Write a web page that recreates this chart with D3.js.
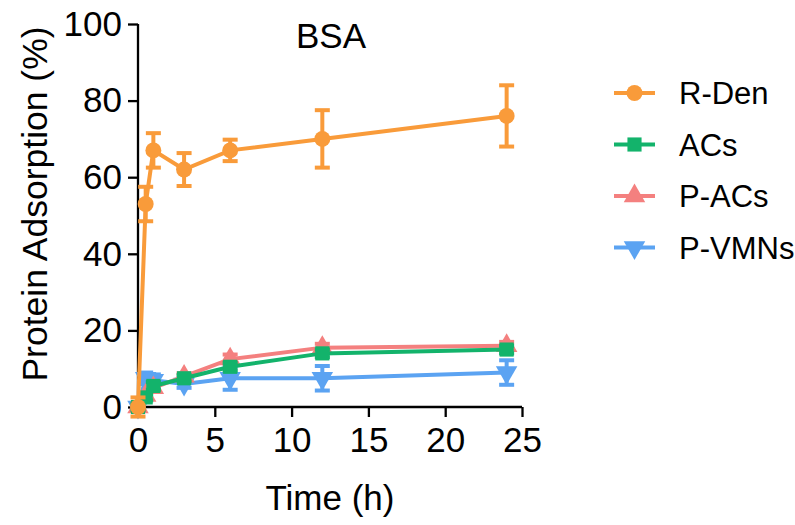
<!DOCTYPE html>
<html>
<head>
<meta charset="utf-8">
<script src="https://cdn.jsdelivr.net/npm/d3@7"></script>
<style>
  body { margin: 0; background: #fff; }
  svg text { font-family: "Liberation Sans", Arial, sans-serif; fill: #000; }
</style>
</head>
<body>
<main></main>
<script>
const width = 795;
const height = 525;

const times = [0, 0.5, 1, 3, 6, 12, 24];
const seriesNames = ['R-Den', 'ACs', 'P-ACs', 'P-VMNs'];
const rDen = [0, 53, 67, 62, 67, 70, 76];
const rDenErr = [2.5, 4.5, 4.5, 4.3, 2.8, 7.5, 8];
const acs = [0, 2.5, 5.5, 7.5, 10.5, 14, 15];
const acsErr = [0.8, 0.8, 1, 0.8, 1, 1, 1];
const pAcs = [0, 3, 5, 8, 12.5, 15.5, 16];
const pAcsErr = [0.8, 0.8, 1, 0.8, 1.2, 1, 1];
const pVmns = [0, 7.5, 7, 6, 7.5, 7.5, 9];
const pVmnsErr = [0.8, 1.5, 1.5, 1, 3, 3.2, 3.2];
const xTicks = [0, 5, 10, 15, 20, 25];
const yTicks = [0, 20, 40, 60, 80, 100];

const colors = ['#F99B3A', '#13B36B', '#F4807F', '#5BA3F2'];
const shapes = [d3.symbolCircle, d3.symbolSquare, d3.symbolTriangle, d3.symbolTriangle];

const series = [
  { name: seriesNames[0], values: rDen, errs: rDenErr },
  { name: seriesNames[1], values: acs, errs: acsErr },
  { name: seriesNames[2], values: pAcs, errs: pAcsErr },
  { name: seriesNames[3], values: pVmns, errs: pVmnsErr }
].map((s, i) => ({ ...s, color: colors[i], shape: shapes[i], flip: i === 3 }));

const x = d3.scaleLinear().domain([0, 25]).range([138, 522]);
const y = d3.scaleLinear().domain([0, 100]).range([407, 24]);

const svg = d3.select('main')
  .append('svg')
  .attr('width', width)
  .attr('height', height);

// axes
const xAxis = svg.append('g')
  .attr('transform', `translate(0, ${y(0)})`)
  .call(d3.axisBottom(x).tickValues(xTicks).tickSize(10).tickPadding(10).tickFormat(d3.format('d')));

const yAxis = svg.append('g')
  .attr('transform', `translate(${x(0)}, 0)`)
  .call(d3.axisLeft(y).tickValues(yTicks).tickSize(10).tickPadding(6).tickFormat(d3.format('d')));

[xAxis, yAxis].forEach(a => {
  a.select('.domain').attr('stroke', '#000').attr('stroke-width', 2.3);
  a.selectAll('.tick line').attr('stroke', '#000').attr('stroke-width', 2.3);
  a.selectAll('.tick text').style('font-size', '35px').attr('fill', '#000');
});
xAxis.select('.domain').attr('d', `M${x(0)},0H${x(25)}`);
yAxis.select('.domain').attr('d', `M0,${y(0)}V${y(100)}`);

const symbol = (s, size) => d3.symbol().type(s.shape).size(size)();

// series, drawn in reverse so R-Den ends on top
series.slice().reverse().forEach(s => {
  const g = svg.append('g');
  const pts = times.map((t, i) => ({ t: t, v: s.values[i], e: s.errs[i] }));

  g.append('path')
    .datum(pts)
    .attr('fill', 'none')
    .attr('stroke', s.color)
    .attr('stroke-width', 4)
    .attr('d', d3.line().x(d => x(d.t)).y(d => y(d.v)));

  const eb = g.selectAll('.eb').data(pts).enter().append('g');
  eb.append('line')
    .attr('x1', d => x(d.t)).attr('x2', d => x(d.t))
    .attr('y1', d => y(d.v - d.e)).attr('y2', d => y(d.v + d.e))
    .attr('stroke', s.color).attr('stroke-width', 4);
  [-1, 1].forEach(k => {
    eb.append('line')
      .attr('x1', d => x(d.t) - 7.5).attr('x2', d => x(d.t) + 7.5)
      .attr('y1', d => y(d.v + k * d.e)).attr('y2', d => y(d.v + k * d.e))
      .attr('stroke', s.color).attr('stroke-width', 4);
  });

  g.selectAll('.mk').data(pts).enter().append('path')
    .attr('d', symbol(s, 200))
    .attr('fill', s.color)
    .attr('transform', d => `translate(${x(d.t)}, ${y(d.v)})` + (s.flip ? ' rotate(180)' : ''));
});

// title and labels
svg.append('text')
  .text('BSA')
  .attr('x', 331).attr('y', 48)
  .attr('text-anchor', 'middle')
  .style('font-size', '35px');

svg.append('text')
  .text('Time (h)')
  .attr('x', 330).attr('y', 510)
  .attr('text-anchor', 'middle')
  .style('font-size', '35px');

svg.append('text')
  .text('Protein Adsorption (%)')
  .attr('transform', 'translate(47, 204) rotate(-90)')
  .attr('text-anchor', 'middle')
  .style('font-size', '35.5px');

// legend
const legend = svg.selectAll('.legend')
  .data(series)
  .enter()
  .append('g')
  .attr('transform', (d, i) => `translate(614, ${93 + i * 51.5})`);

legend.append('line')
  .attr('x1', 0).attr('x2', 41)
  .attr('stroke', d => d.color).attr('stroke-width', 4);

legend.append('path')
  .attr('d', d => symbol(d, 200))
  .attr('fill', d => d.color)
  .attr('transform', d => 'translate(20.5, 0)' + (d.flip ? ' rotate(180)' : ''));

legend.append('text')
  .text(d => d.name)
  .attr('x', 65).attr('y', 11)
  .style('font-size', '31px');
</script>
</body>
</html>
